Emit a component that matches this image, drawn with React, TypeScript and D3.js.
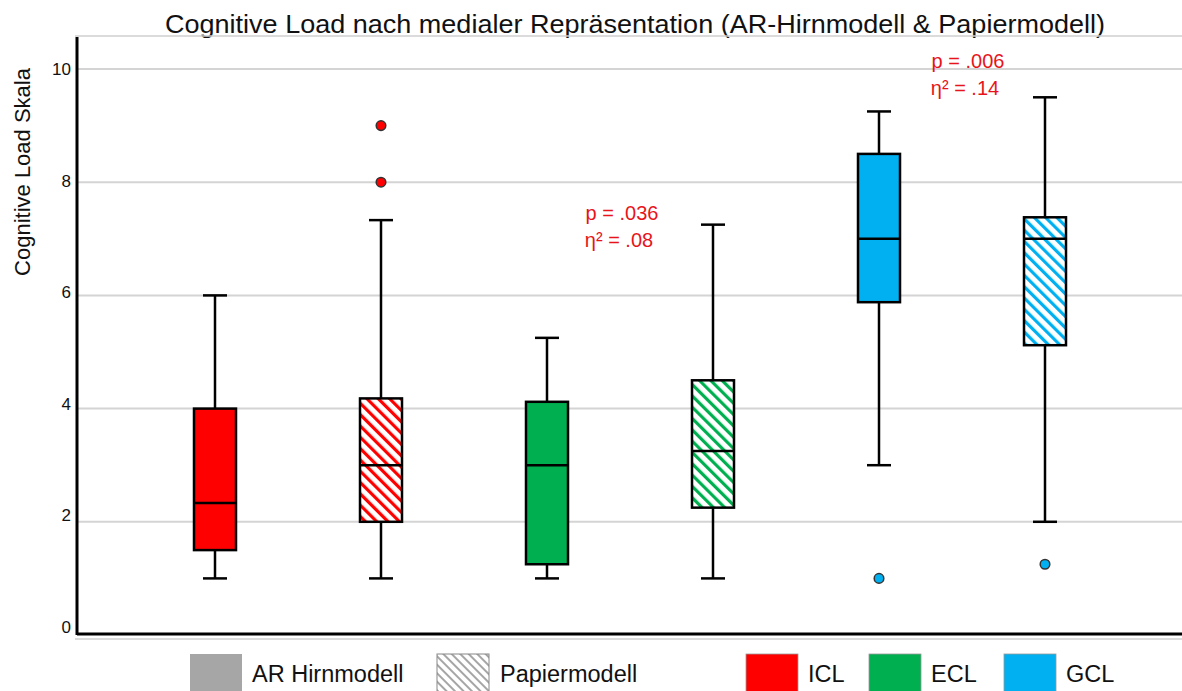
import React from "react";
import * as d3 from "d3";

const groups = ["ICL-AR", "ICL-P", "ECL-AR", "ECL-P", "GCL-AR", "GCL-P"];
const loadType = ["ICL", "ICL", "ECL", "ECL", "GCL", "GCL"];
const hatched = [false, true, false, true, false, true];
const whiskerLow = [1, 1, 1, 1, 3, 2];
const q1 = [1.5, 2, 1.25, 2.25, 5.88, 5.12];
const median = [2.33, 3, 3, 3.25, 7, 7];
const q3 = [4, 4.18, 4.12, 4.5, 8.5, 7.38];
const whiskerHigh = [6, 7.33, 5.25, 7.25, 9.25, 9.5];
const outliers: number[][] = [[], [8, 9], [], [], [1], [1.25]];
const yTicks = [0, 2, 4, 6, 8, 10];
const colorNames = ["ICL", "ECL", "GCL"];
const colorValues = ["#FF0000", "#00B050", "#00B0F0"];
const annotations = [
  { group: "ECL-AR", p: "p = .036", eta: "η² = .08", y: 7.45, dx: 75 },
  { group: "GCL-AR", p: "p = .006", eta: "η² = .14", y: 10.15, dx: 89 },
];

const W = 1182;
const H = 691;
const left = 77;
const top = 37;
const bottom = 635;

export default function App() {
  const y = d3.scaleLinear().domain([0, 10]).range([bottom, 69]);
  const x = d3.scalePoint<string>().domain(groups).range([215, 1045]);
  const color = d3.scaleOrdinal<string, string>().domain(colorNames).range(colorValues);
  const bw = 42;
  const cap = 24;
  const font = "Liberation Sans, Arial, sans-serif";

  return (
    <svg width={W} height={H} style={{ position: "absolute", left: 0, top: 0, background: "#fff" }} fontFamily={font}>
      <defs>
        {colorNames.map((c) => (
          <pattern key={c} id={`hatch-${c}`} patternUnits="userSpaceOnUse" width={8} height={8} patternTransform="rotate(-45)">
            <rect width={8} height={8} fill="#fff" />
            <rect x={0} y={0} width={3.2} height={8} fill={color(c)} />
          </pattern>
        ))}
        <pattern id="hatch-gray" patternUnits="userSpaceOnUse" width={6} height={6} patternTransform="rotate(-45)">
          <rect width={6} height={6} fill="#fff" />
          <rect x={0} y={0} width={2} height={6} fill="#A6A6A6" />
        </pattern>
      </defs>

      {/* title */}
      <text x={635} y={33} textAnchor="middle" fontSize={26} textLength={940} lengthAdjust="spacingAndGlyphs" fill="#111">
        Cognitive Load nach medialer Repräsentation (AR-Hirnmodell &amp; Papiermodell)
      </text>

      {/* top border */}
      <line x1={left - 2} x2={W} y1={36} y2={36} stroke="#cfcfcf" strokeWidth={1.5} />

      {/* gridlines */}
      {yTicks.filter((t) => t > 0).map((t) => (
        <line key={t} x1={left} x2={W} y1={y(t)} y2={y(t)} stroke="#d4d4d4" strokeWidth={2} />
      ))}

      {/* tick labels */}
      {yTicks.map((t) => (
        <text key={t} x={71} y={y(t) - (10 - t) * 0.8} dy="0.35em" textAnchor="end" fontSize={17} fill="#111">
          {t}
        </text>
      ))}

      {/* y title */}
      <text transform={`translate(22, 172) rotate(-90)`} textAnchor="middle" dy="0.35em" fontSize={22} fill="#111">
        Cognitive Load Skala
      </text>

      {/* axes */}
      <line x1={left - 2} x2={W} y1={639} y2={639} stroke="#cfcfcf" strokeWidth={1.5} />
      <line x1={left} x2={left} y1={top} y2={bottom} stroke="#000" strokeWidth={3} />
      <line x1={left} x2={W} y1={bottom - 1} y2={bottom - 1} stroke="#000" strokeWidth={3} />

      {/* boxes */}
      {groups.map((g, i) => {
        const cx = x(g)!;
        const c = color(loadType[i]);
        const fill = hatched[i] ? `url(#hatch-${loadType[i]})` : c;
        return (
          <g key={g}>
            <line x1={cx} x2={cx} y1={y(whiskerHigh[i])} y2={y(q3[i])} stroke="#000" strokeWidth={2.5} />
            <line x1={cx} x2={cx} y1={y(q1[i])} y2={y(whiskerLow[i])} stroke="#000" strokeWidth={2.5} />
            <line x1={cx - cap / 2} x2={cx + cap / 2} y1={y(whiskerHigh[i])} y2={y(whiskerHigh[i])} stroke="#000" strokeWidth={2.5} />
            <line x1={cx - cap / 2} x2={cx + cap / 2} y1={y(whiskerLow[i])} y2={y(whiskerLow[i])} stroke="#000" strokeWidth={2.5} />
            <rect x={cx - bw / 2} y={y(q3[i])} width={bw} height={y(q1[i]) - y(q3[i])} fill={fill} stroke="#000" strokeWidth={2.5} />
            <line x1={cx - bw / 2} x2={cx + bw / 2} y1={y(median[i])} y2={y(median[i])} stroke="#000" strokeWidth={2.5} />
            {outliers[i].map((o, k) => (
              <circle key={k} cx={cx} cy={y(o)} r={4.8} fill={c} stroke="#333" strokeWidth={1.5} />
            ))}
          </g>
        );
      })}

      {/* annotations */}
      {annotations.map((a) => (
        <g key={a.group} fill="#E8141B" fontSize={20} textAnchor="middle">
          <text x={x(a.group)! + a.dx} y={y(a.y)} dy="0.35em">{a.p}</text>
          <text x={x(a.group)! + a.dx - 3} y={y(a.y) + 27} dy="0.35em">{a.eta}</text>
        </g>
      ))}

      {/* legend */}
      <g fontSize={23.5} fill="#111">
        <rect x={190} y={654} width={52} height={40} fill="#A6A6A6" />
        <text x={252} y={674} dy="0.35em">AR Hirnmodell</text>
        <rect x={437} y={654} width={52} height={40} fill="url(#hatch-gray)" stroke="#888" strokeWidth={1} />
        <text x={500} y={674} dy="0.35em">Papiermodell</text>
        {colorNames.map((c, i) => {
          const lx = [746, 869, 1004][i];
          return (
            <g key={c}>
              <rect x={lx} y={654} width={52} height={40} fill={color(c)} stroke="#999" strokeWidth={0.8} />
              <text x={lx + 62} y={674} dy="0.35em">{c}</text>
            </g>
          );
        })}
      </g>
    </svg>
  );
}
